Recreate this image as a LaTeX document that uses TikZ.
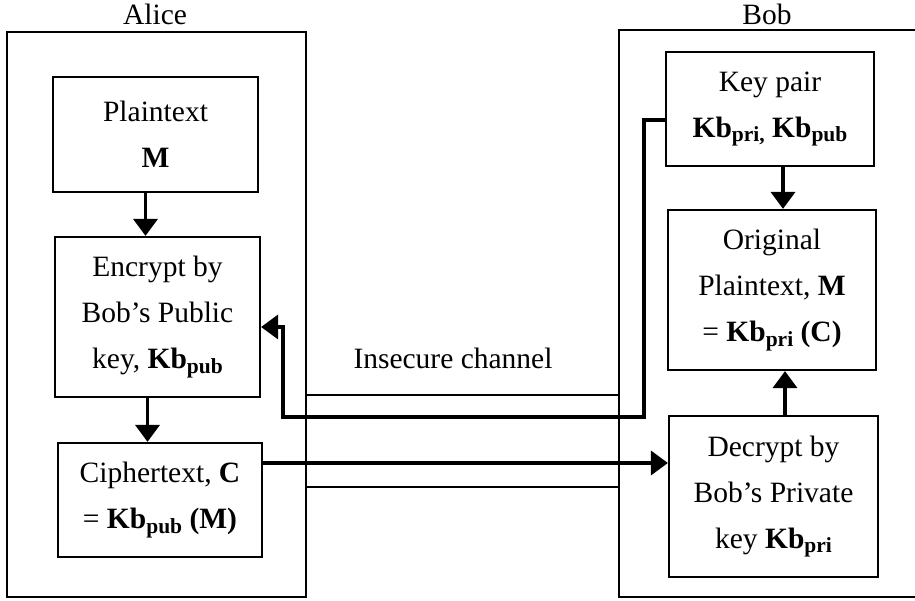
\documentclass[tikz,border=0pt]{standalone}
\usepackage{fontspec}
\setmainfont{Liberation Serif}
\usetikzlibrary{arrows.meta}
% bold key name with bold subscript
\newcommand\kbsub[1]{\textbf{Kb\raisebox{-0.14em}{\fontsize{21.5}{21.5}\selectfont #1}}}
\begin{document}
\begin{tikzpicture}[x=1pt,y=-1pt,
  every node/.style={font=\fontsize{29.5}{46}\selectfont},
  party/.style={draw, line width=1.8pt, inner sep=0pt},
  stepbox/.style={draw, line width=2.2pt, align=center, inner sep=0pt},
  arr/.style={line width=3.6pt, -{Triangle[width=24pt,length=17pt]}},
  chan/.style={line width=1.8pt}]
\useasboundingbox (0,0) rectangle (915,601);
\fill[white] (0,0) rectangle (915,601);
\clip (0,0) rectangle (915,601);

% the two parties
\node[party, minimum width=299pt, minimum height=565pt] (alice) at (156.5,314.5) {};
\node[party, minimum width=320pt, minimum height=567pt] (bob) at (779,313.5) {};
\node[anchor=base] (alicelbl) at (155,25) {Alice};
\node[anchor=base] (boblbl) at (767,25) {Bob};

% Alice's steps
\node[stepbox, minimum width=205pt, minimum height=115pt] (plain) at (155.5,134.5)
  {Plaintext\\\textbf{M}};
\node[stepbox, minimum width=205pt, minimum height=160pt] (enc) at (157.5,317)
  {Encrypt by\\Bob’s Public\\key, \kbsub{pub}};
\node[stepbox, minimum width=204pt, minimum height=114pt] (ciph) at (160,500)
  {Ciphertext, \textbf{C}\\= \kbsub{pub} \textbf{(M)}};

% Bob's steps
\node[stepbox, minimum width=208pt, minimum height=114pt] (kp) at (770,109)
  {Key pair\\\kbsub{pri,} \kbsub{pub}};
\node[stepbox, minimum width=208pt, minimum height=160pt] (orig) at (772,290)
  {Original\\Plaintext, \textbf{M}\\= \kbsub{pri} \textbf{(C)}};
\node[stepbox, minimum width=209pt, minimum height=161pt] (dec) at (773.5,496.5)
  {Decrypt by\\Bob’s Private\\key \kbsub{pri}};

% insecure channel between the parties
\coordinate (chtop) at (0,395);
\coordinate (chbot) at (0,487);
\draw[chan] (alice.east |- chtop) -- (bob.west |- chtop);
\draw[chan] (alice.east |- chbot) -- (bob.west |- chbot);
\node (chlbl) at (453,358) {Insecure channel};

% flow inside each party
\draw[arr] ([xshift=-10pt]plain.south) -- ([xshift=-10pt]plain.south |- enc.north);
\draw[arr] ([xshift=-10pt]enc.south) -- ([xshift=-10pt]enc.south |- ciph.north);
\draw[arr] ([xshift=13pt]kp.south) -- ([xshift=13pt]kp.south |- orig.north);
\draw[arr] ([xshift=11.5pt]dec.north) -- ([xshift=11.5pt]dec.north |- orig.south);

% public key sent to Alice, ciphertext sent to Bob
\coordinate (k1) at (644,417);
\coordinate (k2) at (283,417);
\draw[arr] ([yshift=-11pt]kp.west) -| (k1) -- (k2) |- ([yshift=-10pt]enc.east);
\draw[arr] ([yshift=37pt]ciph.east) -- ([yshift=37pt]ciph.east -| dec.west);
\end{tikzpicture}
\end{document}
